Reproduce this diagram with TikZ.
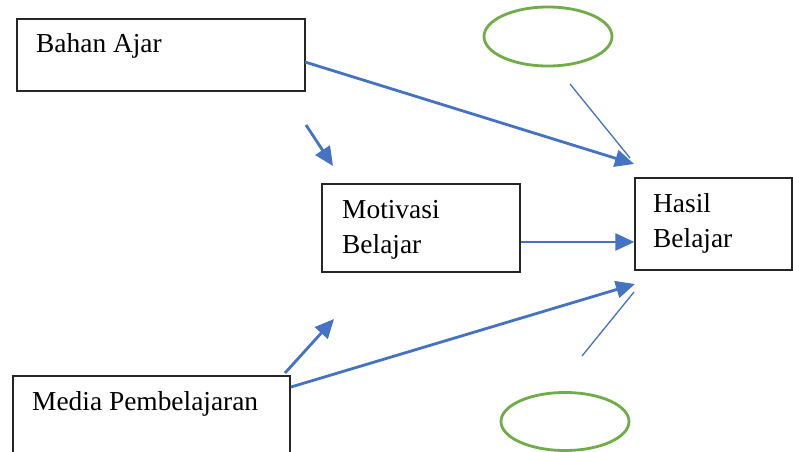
\documentclass[tikz,border=0pt]{standalone}
\usepackage{fontspec}
\setmainfont{Liberation Serif}
\usetikzlibrary{arrows.meta}
\definecolor{lineblue}{HTML}{4472C4}
\definecolor{ovalgreen}{HTML}{70AD47}
\tikzset{
  box/.style={draw=black!85, line width=1.4pt, rectangle, inner sep=0pt},
  lbl/.style={anchor=base west, inner sep=0pt, font=\fontsize{27.4}{33}\selectfont},
  thick arrow/.style={draw=lineblue, line width=2.8pt, arrows={-Triangle[length=19pt,width=17pt]}},
  thin link/.style={draw=lineblue, line width=1.3pt},
  oval/.style={draw=ovalgreen, line width=2.8pt}
}
\begin{document}
\begin{tikzpicture}[x=1pt,y=-1pt]
\useasboundingbox (0,0) rectangle (793,452);
\fill[white] (0,0) rectangle (793,452);
% boxes
\node[box, minimum width=288pt, minimum height=72pt] (bahan) at (161,55) {};
\node[box, minimum width=198pt, minimum height=88pt] (motiv) at (421,228) {};
\node[box, minimum width=157pt, minimum height=92pt] (hasil) at (713.5,224) {};
\node[box, minimum width=277pt, minimum height=80pt] (media) at (151.5,416) {};
% labels
\node[lbl] (tbahan) at (36,53) {Bahan Ajar};
\node[lbl] (tmotiv1) at (342,218) {Motivasi};
\node[lbl] (tmotiv2) at (342,253) {Belajar};
\node[lbl] (thasil1) at (653,212) {Hasil};
\node[lbl] (thasil2) at (653,247) {Belajar};
\node[lbl] (tmedia) at (32,410) {Media Pembelajaran};
% ovals
\draw[oval] (548,36.5) ellipse [x radius=64pt, y radius=29.5pt];
\node[inner sep=0pt] (ovaltop) at (548,36.5) {};
\draw[oval] (565,421.5) ellipse [x radius=64pt, y radius=29pt];
\node[inner sep=0pt] (ovalbot) at (565,421.5) {};
% connector end points
\coordinate (bahanout) at (305,62);
\coordinate (hasiltop) at (634,164);
\coordinate (hasilbot) at (635,284);
\coordinate (shorttopA) at (306,125);
\coordinate (shorttopB) at (333,166);
\coordinate (shortbotA) at (285,373);
\coordinate (shortbotB) at (334,319);
\coordinate (mediaout) at (291,387);
\coordinate (thintopA) at (570,84);
\coordinate (thintopB) at (630,158);
\coordinate (thinbotA) at (582,356);
\coordinate (thinbotB) at (634,292);
% connectors
\draw[thick arrow] (bahanout) -- (hasiltop);
\draw[thick arrow] (shorttopA) -- (shorttopB);
\draw[thick arrow] (motiv.east |- 0,242) -- (hasil.west |- 0,242);
\draw[thick arrow] (shortbotA) -- (shortbotB);
\draw[thick arrow] (mediaout) -- (hasilbot);
\draw[thin link] (thintopA) -- (thintopB);
\draw[thin link] (thinbotA) -- (thinbotB);
\end{tikzpicture}
\end{document}
